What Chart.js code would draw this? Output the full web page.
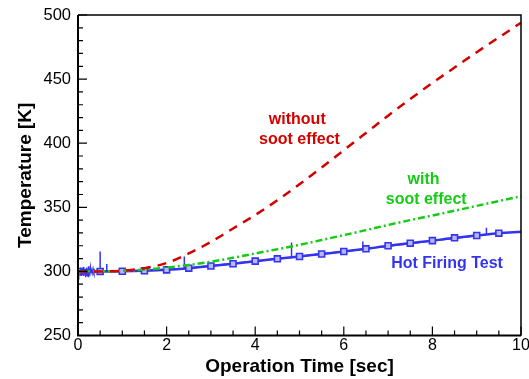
<!DOCTYPE html>
<html>
<head>
<meta charset="utf-8">
<script src="https://cdn.jsdelivr.net/npm/chart.js@4.4.1/dist/chart.umd.min.js"></script>
<style>
  html, body { margin: 0; padding: 0; background: #fff; }
  #wrap { width: 529px; height: 379px; position: relative; }
</style>
</head>
<body>
<div id="wrap"><canvas id="tempgraph"></canvas></div>
<script>
// operation time [sec]
var timeSec = [0, 0.5, 1, 1.5, 2, 2.5, 3, 3.5, 4, 4.5, 5, 5.5, 6, 6.5, 7, 7.5, 8, 8.5, 9, 9.5, 10];

// predicted wall temperature [K]
var withoutSoot = [300, 300, 300.5, 302.5, 306.5, 314, 323, 333.5, 344, 355.5, 368, 381, 394.5, 408, 421.5, 434.5, 447, 459, 471, 482.5, 494];
var withSoot    = [300, 300.1, 300.4, 301.4, 303, 305, 307.6, 310.6, 314, 317.3, 320.7, 324.5, 328.3, 332.2, 336.2, 340, 343.6, 347.3, 351.1, 354.9, 358.6];

// hot firing test (smoothed trace + markers)
var hotFiring   = [300, 300, 300.1, 300.5, 301.2, 302.5, 304.2, 306, 308, 309.8, 311.6, 313.6, 315.5, 317.6, 320, 322, 324, 326.2, 328, 329.8, 331];

// raw thermocouple signal: start-up noise and spikes
var rawTime = [-0.04, 0, 0.01, 0.02, 0.03, 0.04, 0.05, 0.06, 0.07, 0.08, 0.09, 0.1, 0.11, 0.12, 0.13, 0.14, 0.15, 0.16, 0.17, 0.18,
               0.19, 0.2, 0.21, 0.22, 0.23, 0.24, 0.25, 0.26, 0.27, 0.28, 0.29, 0.3, 0.32, 0.34, 0.36, 0.38, 0.4, 0.44, 0.48,
               0.5, 0.5, 0.5, 0.58, 0.65, 0.65, 0.65, 1.0,
               2.4, 2.4, 2.4, 4.82, 4.82, 4.82, 6.43, 6.43, 6.43, 9.22, 9.22, 9.22];
var rawTemp = [300, 301, 298.5, 302, 297.5, 301.5, 299, 303, 297, 300.5, 298, 302.5, 297.5, 303.5, 296.5, 301, 298, 302, 295.5, 300.5,
               298.5, 303, 297, 301.5, 296, 304, 298, 301, 297.5, 302.5, 299, 301, 298.5, 302, 299, 300.5, 299.5, 301, 300,
               300, 315.5, 300, 300.5, 300, 305.8, 300, 300.1,
               302.2, 311.6, 302.2, 311, 322.5, 311, 317.3, 323.3, 317.3, 328.8, 334, 328.8];

var xTicks = [0, 2, 4, 6, 8, 10];
var yTicks = [250, 300, 350, 400, 450, 500];

var notes = [
    { text: 'without',         t: 4.95, T: 418.4, color: '#d40000' },
    { text: 'soot effect',     t: 5.0,  T: 402.7, color: '#d40000' },
    { text: 'with',            t: 7.8,  T: 371.5, color: '#14cc14' },
    { text: 'soot effect',     t: 7.86, T: 355.9, color: '#14cc14' },
    { text: 'Hot Firing Test', t: 8.33, T: 306.3, color: '#3434f0' }
];

function pts(xs, ys) {
    return xs.map(function(x, i) { return { x: x, y: ys[i] }; });
}

var FONT = 'Arial, "Liberation Sans", sans-serif';

// frame, inward ticks and curve labels
var framePlugin = {
    id: 'frame',
    afterDraw: function(chart) {
        var ctx = chart.ctx, a = chart.chartArea;
        var xs = chart.scales.x, ys = chart.scales.y;
        ctx.save();
        ctx.strokeStyle = '#000';
        ctx.lineWidth = 1.5;
        ctx.beginPath();
        ctx.moveTo(a.left, a.top); ctx.lineTo(a.right, a.top); ctx.lineTo(a.right, a.bottom);
        ctx.stroke();
        ctx.lineWidth = 2;
        ctx.beginPath();
        ctx.moveTo(a.left, a.top); ctx.lineTo(a.left, a.bottom); ctx.lineTo(a.right, a.bottom);
        ctx.stroke();

        ctx.lineWidth = 1.2;
        ctx.beginPath();
        for (var v = 0; v <= 10.001; v += 0.5) {
            var px = xs.getPixelForValue(v);
            var len = (Math.abs(v % 2) < 0.01) ? 9 : 5;
            ctx.moveTo(px, a.bottom); ctx.lineTo(px, a.bottom - len);
        }
        for (var w = 250; w <= 500; w += 10) {
            var py = ys.getPixelForValue(w);
            var l2 = (w % 50 === 0) ? 9 : 5;
            ctx.moveTo(a.left, py); ctx.lineTo(a.left + l2, py);
        }
        ctx.stroke();

        ctx.font = 'bold 16px ' + FONT;
        ctx.textAlign = 'center';
        ctx.textBaseline = 'middle';
        notes.forEach(function(n) {
            ctx.fillStyle = n.color;
            ctx.fillText(n.text, xs.getPixelForValue(n.t), ys.getPixelForValue(n.T));
        });
        ctx.restore();
    }
};

var ctx = document.getElementById('tempgraph').getContext('2d');
new Chart(ctx, {
    type: 'line',
    data: {
        datasets: [{
            label: 'without soot effect',
            data: pts(timeSec, withoutSoot),
            borderColor: '#d40000',
            borderWidth: 2.5,
            borderDash: [9, 7],
            pointRadius: 0,
            cubicInterpolationMode: 'monotone'
        }, {
            label: 'with soot effect',
            data: pts(timeSec, withSoot),
            borderColor: '#14cc14',
            borderWidth: 2.5,
            borderDash: [7, 3, 2, 3],
            pointRadius: 0,
            cubicInterpolationMode: 'monotone'
        }, {
            label: 'Hot Firing Test',
            data: pts(timeSec, hotFiring),
            borderColor: '#3434f0',
            borderWidth: 2.5,
            pointStyle: 'rect',
            pointRadius: function(c) { return c.raw && c.raw.x > 9.75 ? 0 : 4.2; },
            pointBorderWidth: 1.6,
            pointBorderColor: '#3434f0',
            pointBackgroundColor: '#b8b8ff',
            cubicInterpolationMode: 'monotone'
        }, {
            label: 'raw signal',
            data: pts(rawTime, rawTemp),
            borderColor: '#3434f0',
            borderWidth: 1.5,
            pointRadius: 0,
            tension: 0
        }]
    },
    options: {
        responsive: true,
        maintainAspectRatio: false,
        animation: false,
        layout: { padding: { left: 0, right: 8, top: 15, bottom: 0 } },
        plugins: {
            legend: { display: false },
            tooltip: { enabled: false }
        },
        scales: {
            x: {
                type: 'linear',
                min: 0,
                max: 10,
                grid: { display: false, drawTicks: false },
                border: { display: false },
                afterBuildTicks: function(s) { s.ticks = xTicks.map(function(v) { return { value: v }; }); },
                afterFit: function(s) { s.height = 43.5; s.paddingLeft = 0; s.paddingRight = 0; },
                ticks: {
                    color: '#000',
                    padding: 0,
                    maxRotation: 0,
                    font: { family: FONT, size: 16 }
                },
                title: {
                    display: true,
                    text: 'Operation Time [sec]',
                    color: '#000',
                    padding: { top: 0, bottom: 1 },
                    font: { family: FONT, size: 19, weight: 'bold' }
                }
            },
            y: {
                min: 250,
                max: 500,
                grid: { display: false, drawTicks: false },
                border: { display: false },
                afterBuildTicks: function(s) { s.ticks = yTicks.map(function(v) { return { value: v }; }); },
                afterFit: function(s) { s.width = 78; s.paddingTop = 0; s.paddingBottom = 0; },
                ticks: {
                    color: '#000',
                    padding: 7,
                    font: { family: FONT, size: 16.5 }
                },
                title: {
                    display: true,
                    text: 'Temperature [K]',
                    color: '#000',
                    padding: { top: 14, bottom: 0 },
                    font: { family: FONT, size: 19, weight: 'bold' }
                }
            }
        }
    },
    plugins: [framePlugin]
});
</script>
</body>
</html>
